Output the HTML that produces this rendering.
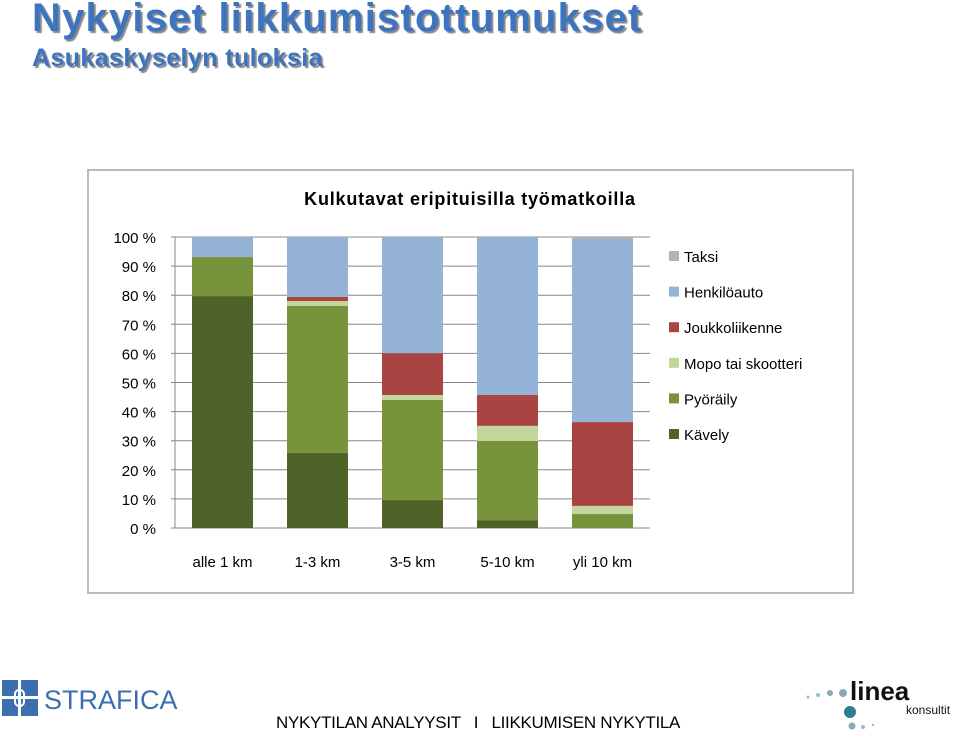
<!DOCTYPE html>
<html><head><meta charset="utf-8"><style>
body{margin:0;width:960px;height:734px;background:#fff;overflow:hidden;position:relative;font-family:"Liberation Sans",sans-serif}
.t1{position:absolute;left:32px;top:-4px;font-size:40px;font-weight:bold;color:#3d74c0;text-shadow:2px 2px 1px #888;letter-spacing:1.2px}
.t2{position:absolute;left:32px;top:44px;font-size:25px;font-weight:bold;color:#3d74c0;text-shadow:2px 2px 1px #888;letter-spacing:0.4px}
.foot{position:absolute;left:276px;top:713px;font-size:17px;color:#000;letter-spacing:-0.3px}
</style></head><body>
<div class="t1">Nykyiset liikkumistottumukset</div>
<div class="t2">Asukaskyselyn tuloksia</div>
<svg width="960" height="734" style="position:absolute;left:0;top:0" id="chart">
<rect x="88" y="170" width="765" height="423" fill="#fff" stroke="#bbb" stroke-width="2"/>
<text x="470" y="205" text-anchor="middle" font-family="Liberation Sans,sans-serif" font-size="18" font-weight="bold" fill="#000" letter-spacing="0.8">Kulkutavat eripituisilla työmatkoilla</text>
<g id="grid"></g><g id="bars"></g><g id="axes"></g><g id="legend"></g>
<g>
<rect x="2" y="680" width="36" height="36" fill="#3c6fb0"/><rect x="2" y="696" width="36" height="3" fill="#fff"/><rect x="18" y="680" width="3" height="36" fill="#fff"/><rect x="15" y="690" width="9" height="16" rx="4" fill="none" stroke="#fff" stroke-width="2"/>
<text x="44" y="709" font-family="Liberation Sans,sans-serif" font-size="27" fill="#3c6fb0">STRAFICA</text></g>
<g>
<circle cx="808" cy="697" r="1.5" fill="#9bc"/><circle cx="818" cy="695" r="2" fill="#9bc"/><circle cx="830" cy="693" r="3" fill="#8ab"/><circle cx="843" cy="693" r="4" fill="#8ab"/><circle cx="850" cy="712" r="6" fill="#2a7f8f"/><circle cx="852" cy="726" r="3.5" fill="#8ab"/><circle cx="863" cy="727" r="2" fill="#9bc"/><circle cx="873" cy="725" r="1.2" fill="#9bc"/>
<text x="850" y="700" font-family="Liberation Sans,sans-serif" font-size="26" font-weight="bold" fill="#111">linea</text>
<text x="906" y="714" font-family="Liberation Sans,sans-serif" font-size="12" fill="#111">konsultit</text></g>
</svg>
<div class="foot">NYKYTILAN ANALYYSIT &nbsp; I &nbsp; LIIKKUMISEN NYKYTILA</div>
<script>
const categories=["alle 1 km","1-3 km","3-5 km","5-10 km","yli 10 km"];
const seriesNames=["Kävely","Pyöräily","Mopo tai skootteri","Joukkoliikenne","Henkilöauto","Taksi"];
const kavely=[79.7,25.8,9.6,2.7,0];
const pyoraily=[13.4,50.5,34.4,27.2,4.8];
const mopo=[0,1.7,1.7,5.2,2.8];
const joukko=[0,1.4,14.4,10.6,28.8];
const henkiloauto=[6.9,20.6,39.9,54.3,62.9];
const taksi=[0,0,0,0,0.7];
const yTicks=[0,10,20,30,40,50,60,70,80,90,100];
const colors=["#4f6228","#77933c","#c3d69b","#a94442","#95b3d7","#b3b3b3"];
const ns="http://www.w3.org/2000/svg";
const X0=175,X1=650,Y0=528,Y1=237;
const y=v=>Y0-(v/100)*(Y0-Y1);
const band=(X1-X0)/categories.length;
const xc=i=>X0+band*(i+0.5);
const bw=61;
function mk(t,a,p){const e=document.createElementNS(ns,t);for(const k in a)e.setAttribute(k,a[k]);p.appendChild(e);return e;}
const grid=document.getElementById('grid'),axes=document.getElementById('axes'),bars=document.getElementById('bars'),leg=document.getElementById('legend');
yTicks.forEach(v=>{
 const l=mk('line',{x1:X0-4,x2:X1,y1:y(v),y2:y(v),stroke:'#888','stroke-width':1},grid);
 
 
 const t=mk('text',{x:X0-19,y:y(v)+6,'text-anchor':'end','font-family':'Liberation Sans,sans-serif','font-size':15,fill:'#000'},axes);
 t.textContent=v+' %';
 
 
});
const ax=mk('line',{x1:X0,x2:X0,y1:Y1,y2:Y0,stroke:'#888'},axes);


const all=[kavely,pyoraily,mopo,joukko,henkiloauto,taksi];
categories.forEach((c,i)=>{
 let acc=0;
 all.forEach((s,j)=>{
  const v=s[i];
  if(v>0){
   const r=mk('rect',{x:xc(i)-bw/2,y:y(acc+v),width:bw,height:y(acc)-y(acc+v),fill:colors[j]},bars);
   
   
  }
  acc+=v;
 });
 const t=mk('text',{x:xc(i),y:567,'text-anchor':'middle','font-family':'Liberation Sans,sans-serif','font-size':15,fill:'#000'},axes);
 t.textContent=c;
 
 
});
for(let j=5;j>=0;j--){
 const k=5-j,yy=257+k*35.6;
 const r=mk('rect',{x:669,y:yy-6,width:10,height:10,fill:colors[j]},leg);
 
 
 const t=mk('text',{x:684,y:yy+5,'font-family':'Liberation Sans,sans-serif','font-size':15,fill:'#000'},leg);
 t.textContent=seriesNames[j];
 
 
}
</script>
</body></html>
